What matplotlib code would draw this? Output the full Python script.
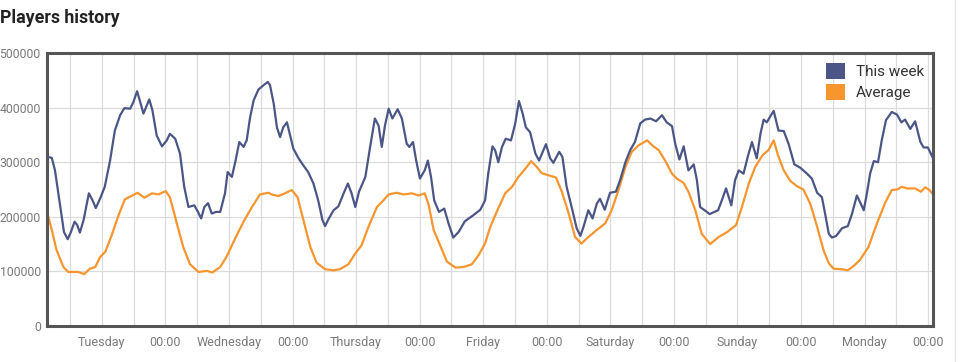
import matplotlib
matplotlib.use("Agg")
import matplotlib.pyplot as plt
from matplotlib.patches import Patch
from matplotlib.lines import Line2D

plt.rcParams['font.family'] = ['Roboto', 'DejaVu Sans']

# hours since the start of the window, players
week_hours = [0.0, 0.9, 1.5, 2.5, 3.2, 3.9, 4.5, 5.2, 5.7, 6.2, 6.9, 7.9, 8.6, 9.2,
              10.0, 10.9, 11.9, 12.8, 13.8, 14.6, 15.7, 16.3, 17.0, 17.6, 18.2, 19.3,
              19.9, 20.7, 21.7, 22.6, 23.2, 24.2, 25.1, 25.9, 26.7, 27.8, 28.5, 29.1,
              29.7, 30.4, 31.1, 31.9, 32.7, 33.6, 34.1, 34.9, 35.6, 36.3, 37.1, 37.7,
              38.3, 39.0, 39.9, 41.0, 41.7, 42.1, 42.8, 43.4, 44.0, 44.6, 45.3, 45.9,
              46.5, 47.5, 48.4, 49.3, 50.3, 51.2, 52.0, 52.5, 53.1, 54.1, 55.0, 56.0,
              56.8, 57.5, 58.2, 58.9, 60.1, 61.0, 61.9, 62.6, 63.2, 63.8, 64.5, 65.2,
              66.2, 67.0, 67.9, 68.4, 69.1, 69.7, 70.4, 71.3, 71.9, 72.5, 73.1, 74.0,
              75.0, 75.8, 76.7, 77.7, 78.9, 80.5, 81.8, 82.7, 83.3, 84.1, 84.6, 85.2,
              85.9, 86.6, 87.6, 88.4, 89.1, 89.8, 90.4, 91.2, 92.2, 92.9, 94.2, 95.0,
              95.6, 96.7, 97.3, 98.1, 99.2, 100.0, 100.7, 101.3, 102.2, 103.0, 103.8,
              104.4, 105.3, 106.3, 107.4, 108.2, 109.2, 110.1, 111.0, 112.0, 112.9,
              113.9, 115.0, 116.1, 117.0, 118.0, 118.6, 119.4, 120.2, 121.1, 122.1,
              122.7, 123.3, 124.3, 125.1, 126.7, 127.4, 128.2, 129.2, 129.9, 130.6,
              131.5, 132.3, 133.1, 134.0, 134.7, 135.3, 135.9, 136.5, 137.2, 138.1,
              139.1, 140.0, 141.1, 142.2, 143.5, 144.4, 145.4, 146.3, 146.9, 147.6,
              148.2, 149.0, 150.1, 151.2, 152.0, 152.9, 153.5, 154.2, 154.8, 155.4,
              156.1, 156.9, 157.6, 158.4, 159.5, 160.5, 161.3, 162.0, 163.0, 163.9,
              164.9, 165.5, 166.3, 167.3]
this_week = [310, 308, 285, 218, 172, 159, 172, 191, 185, 171, 194, 243, 230, 216,
             233, 255, 303, 358, 386, 399, 398, 410, 430, 410, 389, 415,
             395, 349, 329, 340, 352, 343, 316, 255, 218, 221, 209, 197,
             218, 225, 206, 209, 209, 243, 282, 273, 303, 337, 328, 340,
             380, 413, 433, 442, 447, 441, 407, 364, 346, 364, 373, 349,
             325, 307, 294, 282, 261, 230, 194, 183, 195, 212, 219, 243,
             261, 243, 218, 246, 273, 328, 380, 367, 328, 367, 398, 380,
             397, 380, 334, 328, 337, 303, 270, 285, 303, 273, 230, 209,
             215, 188, 162, 172, 192, 203, 213, 230, 279, 329, 322, 300,
             328, 343, 340, 371, 412, 389, 364, 355, 316, 303, 333, 307,
             299, 319, 310, 255, 212, 179, 165, 182, 212, 197, 224,
             233, 213, 244, 246, 267, 300, 322, 337, 371, 378,
             380, 375, 386, 373, 366, 334, 305, 329, 285, 296,
             267, 218, 211, 205, 212, 230, 252, 221, 267, 285,
             279, 310, 337, 307, 352, 378, 373, 383, 394, 358,
             357, 334, 296, 290, 279, 270, 244, 236, 206, 169,
             162, 165, 179, 183, 206, 239, 227, 212, 243, 279,
             302, 300, 340, 377, 392, 387, 373, 378, 361, 375,
             337, 327, 327, 307]

avg_hours = [0.0, 0.9, 1.8, 3.1, 4.0, 5.9, 7.0, 8.1, 9.1, 10.0, 11.0, 12.2, 13.5,
             14.7, 16.1, 17.1, 18.4, 19.8, 21.0, 22.4, 23.2, 24.5, 25.7, 27.0, 28.6,
             30.2, 31.2, 32.7, 33.9, 35.5, 37.1, 38.7, 40.2, 41.8, 42.4, 43.7, 44.9,
             46.2, 47.3, 48.4, 49.7, 50.9, 52.5, 54.1, 55.3, 56.9, 58.2, 59.4, 60.7,
             62.3, 63.5, 64.5, 66.0, 67.3, 68.9, 70.1, 71.3, 72.0, 73.0, 74.2, 75.5,
             77.1, 78.6, 80.2, 81.5, 82.7, 83.7, 84.9, 86.5, 87.8, 89.0, 90.3, 91.4,
             92.5, 93.4, 94.7, 96.1, 97.2, 98.5, 99.7, 100.9, 102.2, 103.8, 105.4,
             106.6, 107.9, 109.2, 110.4, 111.7, 113.3, 114.5, 115.5, 116.7, 118.0,
             118.9, 120.2, 121.1, 122.4, 123.6, 125.2, 126.8, 128.4, 130.1, 131.2,
             132.5, 133.7, 135.1, 136.2, 137.2, 138.0, 139.1, 140.3, 141.6, 142.8,
             144.1, 145.4, 146.6, 147.6, 148.5, 150.1, 151.2, 152.3, 153.5, 155.1,
             156.7, 158.3, 159.5, 160.5, 161.4, 162.4, 163.9, 165.0, 165.8, 166.6,
             167.3]
average = [209, 176, 139, 108, 99, 99, 95, 105, 108, 126, 136, 166, 203,
           232, 239, 244, 235, 243, 241, 247, 236, 188, 145, 113, 99,
           101, 98, 108, 127, 160, 191, 218, 241, 244, 241, 238, 243,
           249, 236, 194, 145, 116, 104, 102, 104, 113, 133, 148, 182,
           218, 230, 241, 244, 241, 243, 239, 243, 224, 176, 148, 118,
           107, 108, 113, 130, 151, 182, 209, 243, 255, 273, 288, 302,
           291, 280, 276, 272, 246, 206, 163, 151, 163, 176, 188,
           212, 249, 291, 319, 331, 340, 329, 322, 303, 279,
           270, 262, 246, 212, 169, 150, 163, 172, 185, 218,
           261, 291, 313, 322, 340, 313, 285, 266, 256, 250,
           224, 182, 139, 115, 105, 104, 102, 110, 121, 145,
           188, 227, 249, 250, 255, 252, 252, 246, 254, 249,
           241]

tick_labels = ['Tuesday', '00:00', 'Wednesday', '00:00', 'Thursday', '00:00',
               'Friday', '00:00', 'Saturday', '00:00', 'Sunday', '00:00',
               'Monday', '00:00']
y_ticks = [0, 100000, 200000, 300000, 400000, 500000]

BLUE = '#4b5686'
ORANGE = '#f7952f'

fig = plt.figure(figsize=(9.6, 3.62), dpi=100)
ax = fig.add_axes([0.049, 0.0994, 0.923, 0.7542])

ax.plot(week_hours, [v * 1000 for v in this_week], color=BLUE, lw=1.6,
        solid_joinstyle='round', zorder=3)
ax.plot(avg_hours, [v * 1000 for v in average], color=ORANGE, lw=1.6,
        solid_joinstyle='round', zorder=2)

ax.set_xlim(0, 167.3)
ax.set_ylim(0, 500000)

first_label = 10.35
ax.set_xticks([first_label + 12 * i for i in range(len(tick_labels))])
ax.set_xticklabels(tick_labels)
ax.set_xticks([first_label - 6 + 12 * i for i in range(len(tick_labels))], minor=True)
ax.set_yticks(y_ticks)
ax.set_yticklabels([str(v) for v in y_ticks])

ax.grid(True, which='both', color='#dcdcdc', lw=0.9, zorder=0)
ax.tick_params(axis='both', which='both', length=0, colors='#7a7a7a', labelsize=9)
ax.tick_params(axis='x', pad=7)
ax.tick_params(axis='y', pad=4.5, labelsize=8.8)

for s in ax.spines.values():
    s.set_color('#555555')
    s.set_linewidth(2.2)

handles = [Patch(facecolor=BLUE, edgecolor='none'),
           Patch(facecolor=ORANGE, edgecolor='none')]
leg = ax.legend(handles, ['This week', 'Average'], loc='upper right',
                bbox_to_anchor=(0.99, 0.965), frameon=False, fontsize=11,
                handlelength=1.28, handleheight=1.28, handletextpad=0.7,
                labelspacing=0.3, borderaxespad=0.0, borderpad=0.0)
for t in leg.get_texts():
    t.set_color('#333333')

fig.text(0.0, 0.95, 'Players history', fontsize=12.8, fontweight='bold',
         color='#222222', va='center', ha='left')

fig.add_artist(Line2D([0.995, 0.995], [0, 1], transform=fig.transFigure,
                      color='#e6e6e6', lw=1))

fig.savefig('out.png', dpi=100)
